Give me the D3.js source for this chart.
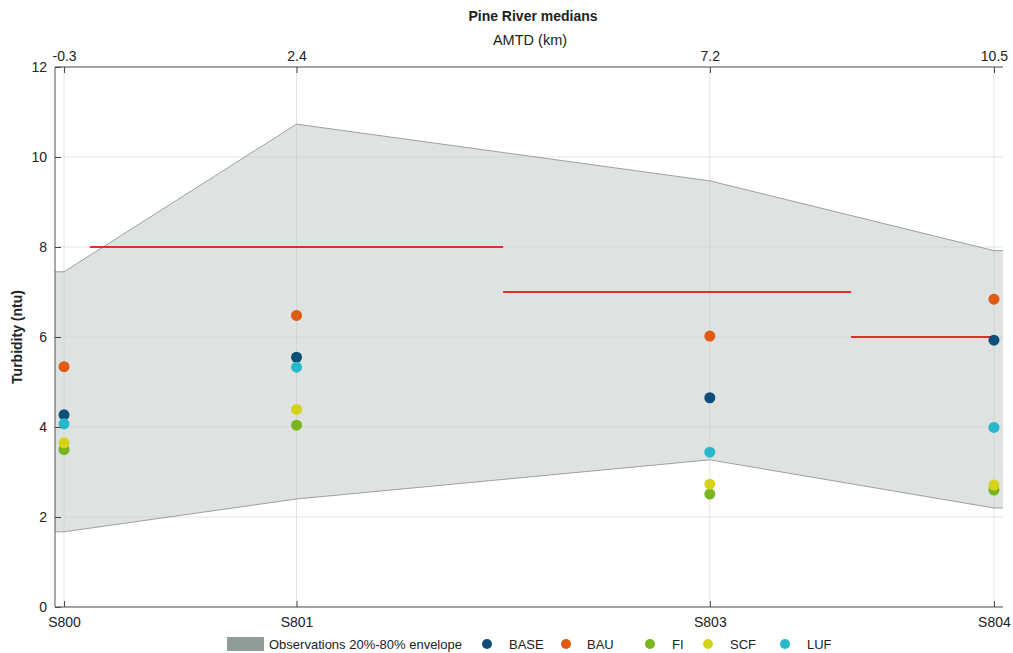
<!DOCTYPE html>
<html><head><meta charset="utf-8">
<script src="https://cdn.jsdelivr.net/npm/d3@7"></script>
<style>body{margin:0;background:#fff;font-family:"Liberation Sans",Arial,sans-serif;}</style>
</head><body><svg id="c" width="1013" height="653"></svg>
<script>
const sites = ["S800","S801","S803","S804"];
const amtd = [-0.3, 2.4, 7.2, 10.5];
const amtdLabels = ["-0.3","2.4","7.2","10.5"];
const envLow = [1.67, 2.4, 3.27, 2.2];
const envHigh = [7.45, 10.73, 9.47, 7.92];
const seriesNames = ["BASE","BAU","FI","SCF","LUF"];
const seriesColors = ["#0d4f78","#e05a12","#79b51e","#d6d21b","#26b9cc"];
const BASE = [4.27, 5.55, 4.65, 5.93];
const BAU = [5.34, 6.48, 6.02, 6.84];
const FI = [3.50, 4.04, 2.51, 2.60];
const SCF = [3.65, 4.39, 2.73, 2.71];
const LUF = [4.07, 5.33, 3.44, 3.99];
const seriesValues = [BASE, BAU, FI, SCF, LUF];
const guideStart = [0.0, 4.8, 8.84];
const guideEnd = [4.8, 8.84, 10.5];
const guideValue = [8, 7, 6];
const yTicks = [0,2,4,6,8,10,12];

const svg = d3.select("#c");
const L=55, R=1003, T=67, B=607;
const x = d3.scaleLinear().domain([-0.405, 10.605]).range([L, R]);
const y = d3.scaleLinear().domain([0, 12]).range([B, T]);
const font = '"Liberation Sans",Arial,sans-serif';

// grid
svg.append("g").selectAll("line").data(yTicks).join("line")
  .attr("x1", L).attr("x2", R).attr("y1", d=>y(d)).attr("y2", d=>y(d))
  .attr("stroke", "#e3e3e3").attr("stroke-width", 1);
svg.append("g").selectAll("line").data(amtd).join("line")
  .attr("x1", d=>x(d)).attr("x2", d=>x(d)).attr("y1", T).attr("y2", B)
  .attr("stroke", "#e3e3e3").attr("stroke-width", 1);

// envelope (extended flat to axes edges)
const envX = [x.domain()[0], ...amtd, x.domain()[1]];
const lo = [envLow[0], ...envLow, envLow[envLow.length-1]];
const hi = [envHigh[0], ...envHigh, envHigh[envHigh.length-1]];
const envData = envX.map((d,i)=>({x:d, lo:lo[i], hi:hi[i]}));
svg.append("path").datum(envData)
  .attr("d", d3.area().x(d=>x(d.x)).y0(d=>y(d.lo)).y1(d=>y(d.hi)))
  .attr("fill", "#c3cbc7").attr("fill-opacity", 0.55).attr("stroke", "none");
svg.append("path").datum(envData)
  .attr("d", d3.line().x(d=>x(d.x)).y(d=>y(d.hi)))
  .attr("fill", "none").attr("stroke", "#8a8a8a").attr("stroke-width", 0.8);
svg.append("path").datum(envData)
  .attr("d", d3.line().x(d=>x(d.x)).y(d=>y(d.lo)))
  .attr("fill", "none").attr("stroke", "#8a8a8a").attr("stroke-width", 0.8);

// guideline red segments
svg.append("g").selectAll("line").data(guideValue).join("line")
  .attr("x1", (d,i)=>x(guideStart[i])).attr("x2", (d,i)=>x(guideEnd[i]))
  .attr("y1", d=>y(d)).attr("y2", d=>y(d))
  .attr("stroke", "#e0302c").attr("stroke-width", 2);

// points
seriesValues.forEach((vals, si)=>{
  svg.append("g").selectAll("circle").data(vals).join("circle")
    .attr("cx", (d,i)=>x(amtd[i])).attr("cy", d=>y(d)).attr("r", 5.5)
    .attr("fill", seriesColors[si]);
});

// axes
const yAxis = svg.append("g").attr("transform", `translate(${L},0)`)
  .call(d3.axisLeft(y).tickValues(yTicks).tickSize(-6).tickPadding(8).tickFormat(d3.format("d")));
const bAxis = svg.append("g").attr("transform", `translate(0,${B})`)
  .call(d3.axisBottom(x).tickValues(amtd).tickSize(-6).tickPadding(10).tickFormat((d,i)=>sites[i]));
const tAxis = svg.append("g").attr("transform", `translate(0,${T})`)
  .call(d3.axisTop(x).tickValues(amtd).tickSize(-6).tickPadding(6).tickFormat((d,i)=>amtdLabels[i]));
[yAxis,bAxis,tAxis].forEach(g=>{
  g.select(".domain").attr("stroke", "#555").attr("stroke-width", 1);
  g.selectAll(".tick line").attr("stroke", "#444");
  g.selectAll(".tick text").attr("fill", "#222").style("font-size", "14px").style("font-family", font);
});
yAxis.select(".domain").attr("d", `M0,${T}V${B}`);
bAxis.select(".domain").attr("d", `M${L},0H${R}`);
tAxis.select(".domain").attr("d", `M${L},0H${R}`);

// titles
svg.append("text").attr("x", 533).attr("y", 21).attr("text-anchor","middle")
  .style("font-family", font).style("font-size","14px").style("font-weight","bold").attr("fill","#222")
  .text("Pine River medians");
svg.append("text").attr("x", 530).attr("y", 45).attr("text-anchor","middle")
  .style("font-family", font).style("font-size","14.5px").attr("fill","#222")
  .text("AMTD (km)");
svg.append("text").attr("transform", `translate(22,${(T+B)/2}) rotate(-90)`).attr("text-anchor","middle")
  .style("font-family", font).style("font-size","14px").style("font-weight","bold").attr("fill","#222")
  .text("Turbidity (ntu)");

// legend
const lg = svg.append("g");
lg.append("rect").attr("x", 227).attr("y", 637).attr("width", 37).attr("height", 14).attr("fill", "#8f9c97");
lg.append("text").attr("x", 269).attr("y", 649).style("font-family", font).style("font-size","13px").attr("fill","#222")
  .text("Observations 20%-80% envelope");
const legDotX = [487, 566, 650, 708, 785];
const legTextX = [509, 587, 672, 730, 807];
seriesNames.forEach((n,i)=>{
  lg.append("circle").attr("cx", legDotX[i]).attr("cy", 644).attr("r", 5).attr("fill", seriesColors[i]);
  lg.append("text").attr("x", legTextX[i]).attr("y", 649).style("font-family", font).style("font-size","13px").attr("fill","#222").text(n);
});
</script></body></html>
